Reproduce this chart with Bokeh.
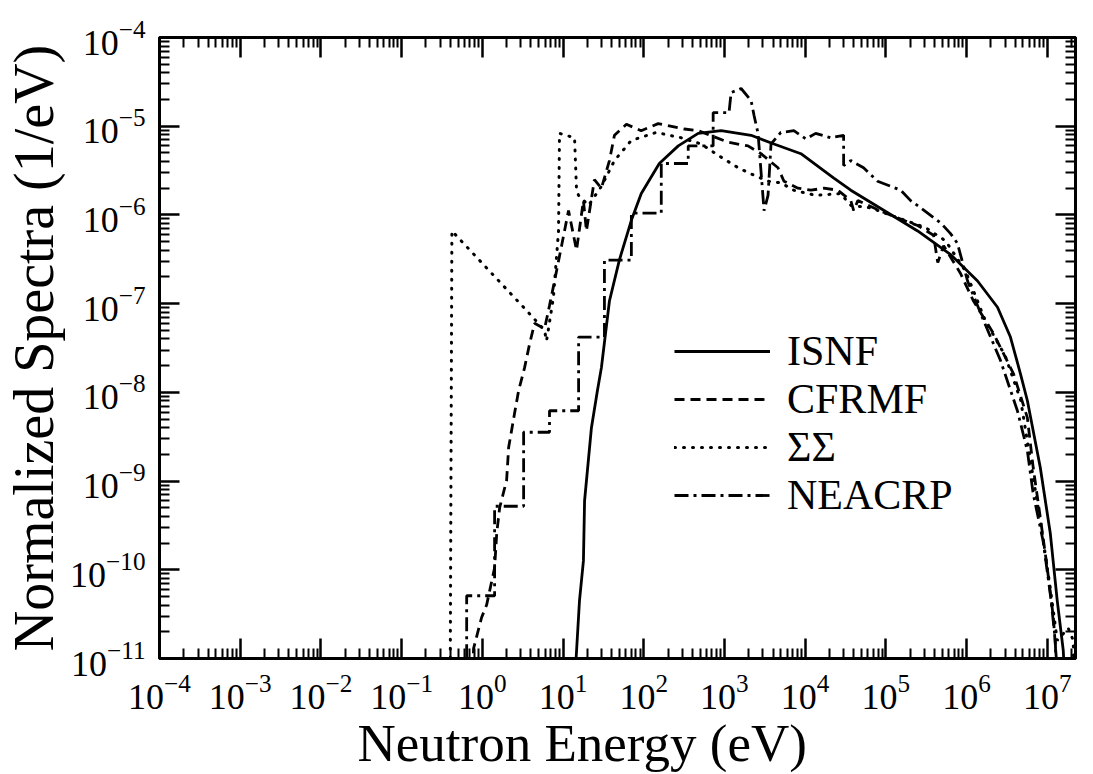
from bokeh.plotting import figure
from bokeh.models import (LogAxis, FixedTicker, Legend, LegendItem, Title,
                          CustomJSTickFormatter, Range1d)
from bokeh.embed import file_html
from bokeh.resources import INLINE

FONT = "Liberation Serif"

# ---------------- data ----------------
x_decades = [1e-4, 1e-3, 1e-2, 1e-1, 1e0, 1e1, 1e2, 1e3, 1e4, 1e5, 1e6, 1e7]
y_decades = [1e-11, 1e-10, 1e-9, 1e-8, 1e-7, 1e-6, 1e-5, 1e-4]

isnf_e = [13.9, 16.0, 17.9, 18.5, 22.5, 26.7, 29.9, 37.6, 49.9, 70.3, 93.3, 156,
          268, 473, 910, 2140, 4110, 8870, 2.27e4, 3.68e4, 9.4e4, 2.48e5, 6.3e5,
          1.37e6, 2.42e6, 3.50e6, 4.65e6, 5.67e6, 8.2e6, 1.09e7, 1.33e7, 1.58e7, 1.66e7]
isnf_s = [5e-12, 4.5e-11, 1.26e-10, 6.0e-10, 4.0e-9, 1.05e-8, 1.9e-8, 1.07e-7, 3.1e-7,
          8.7e-7, 1.74e-6, 3.8e-6, 6.0e-6, 8.3e-6, 8.9e-6, 7.9e-6, 6.3e-6, 4.9e-6,
          2.6e-6, 1.9e-6, 1.13e-6, 6.6e-7, 3.6e-7, 1.8e-7, 9.1e-8, 4.2e-8, 1.63e-8,
          8.1e-9, 1.42e-9, 2.6e-10, 4.5e-11, 1.23e-11, 5e-12]

cfrmf_e = [0.74, 0.78, 0.98, 1.13, 1.42, 1.51, 1.64, 2.0, 2.12, 2.51, 2.82, 3.34, 3.85,
           4.44, 5.9, 6.8, 7.85, 9.6, 11.7, 14.7, 17.9, 19.5, 24.5, 29.9, 37.6, 43.4,
           61, 93, 151, 318, 473, 1110, 1960, 2840, 4610, 5470, 8150, 1.18e4, 1.71e4,
           2.54e4, 3.68e4, 4.0e4, 4.5e4, 9.4e4, 1.66e5, 2.48e5, 3.9e5, 4.4e5, 5.2e5,
           8.4e5, 1.22e6, 2.16e6, 3.81e6, 5.67e6, 6.7e6, 8.2e6, 1.0e7, 1.19e7, 1.37e7]
cfrmf_s = [5e-12, 1.3e-11, 2.9e-11, 4.0e-11, 1.05e-10, 2.6e-10, 5.0e-10, 1.02e-9, 2.4e-9,
           5.8e-9, 1.05e-8, 1.9e-8, 3.5e-8, 6.0e-8, 5.2e-8, 9.5e-8, 1.8e-7, 4.5e-7,
           1.12e-6, 4.0e-7, 1.45e-6, 6.6e-7, 2.5e-6, 2.0e-6, 4.1e-6, 7.9e-6, 1.05e-5,
           8.9e-6, 1.07e-5, 9.3e-6, 8.9e-6, 6.6e-6, 6.0e-6, 4.9e-6, 3.4e-6, 2.4e-6,
           2.0e-6, 1.9e-6, 2.0e-6, 1.9e-6, 1.45e-6, 1.12e-6, 1.45e-6, 1.07e-6, 8.7e-7,
           7.6e-7, 5.9e-7, 2.9e-7, 4.5e-7, 2.2e-7, 1.07e-7, 4.6e-8, 1.63e-8, 5.2e-9,
           1.42e-9, 3.9e-10, 1.05e-10, 2.9e-11, 5e-12]

sigma_e = [0.40, 0.42, 3.75, 5.9, 6.25, 7.6, 8.8, 9.05, 13.9, 14.7, 15.6, 20.7, 29.9,
           43.4, 70, 143, 292, 515, 836, 1480, 2140, 3470, 5000, 7250, 1.35e4, 2.75e4,
           3.7e4, 6.5e4, 1.5e5, 3.1e5, 5.5e5, 9.8e5, 1.7e6, 3.0e6, 4.7e6, 6.2e6, 8.2e6,
           1.1e7, 1.33e7, 1.82e7, 2.1e7, 2.15e7]
sigma_s = [5e-12, 6.6e-7, 7.9e-8, 5.0e-8, 3.8e-8, 1.17e-7, 6.6e-7, 8.3e-6, 7.4e-6,
           1.9e-6, 1.66e-6, 1.28e-6, 2.1e-6, 4.1e-6, 6.9e-6, 8.5e-6, 7.4e-6, 6.3e-6,
           4.7e-6, 3.4e-6, 2.9e-6, 2.4e-6, 2.3e-6, 1.9e-6, 1.66e-6, 1.74e-6, 1.28e-6,
           1.2e-6, 9.1e-7, 7.2e-7, 5.1e-7, 2.3e-7, 6.5e-8, 2.6e-8, 8.1e-9, 1.7e-9,
           3.6e-10, 5.9e-11, 1.6e-11, 2.2e-11, 1.6e-11, 5e-12]

neacrp_e = [0.64, 0.64, 1.42, 1.42, 3.25, 3.25, 6.8, 6.8, 15.6, 15.6, 32.6, 32.6, 70.3,
            70.3, 165, 165, 356, 356, 725, 725, 1140, 1210, 1610, 2140, 2330, 2610,
            3100, 3470, 3780, 5000, 7250, 1.02e4, 1.35e4, 2.08e4, 3.0e4, 3.0e4, 3.68e4,
            5.3e4, 7.9e4, 1.53e5, 2.03e5, 3.3e5, 4.8e5, 6.3e5, 7.7e5, 1.03e6, 1.62e6,
            2.63e6, 4.27e6, 5.67e6, 6.7e6, 8.9e6, 1.09e7, 1.26e7, 1.3e7]
neacrp_s = [5e-12, 5.1e-11, 5.1e-11, 5.2e-10, 5.2e-10, 3.55e-9, 3.55e-9, 6.2e-9, 6.2e-9,
            4.2e-8, 4.2e-8, 3.1e-7, 3.1e-7, 1.05e-6, 1.05e-6, 3.8e-6, 3.8e-6, 6.0e-6,
            6.0e-6, 1.42e-5, 1.42e-5, 2.4e-5, 2.66e-5, 1.95e-5, 1.32e-5, 8.3e-6, 1.12e-6,
            1.66e-6, 6.3e-6, 8.5e-6, 8.9e-6, 7.2e-6, 8.3e-6, 7.4e-6, 7.9e-6, 3.6e-6,
            4.1e-6, 3.4e-6, 2.4e-6, 1.9e-6, 1.45e-6, 1.05e-6, 8.1e-7, 6.2e-7, 4.8e-7,
            1.8e-7, 6.5e-8, 2.3e-8, 6.2e-9, 2.2e-9, 7.2e-10, 2.1e-10, 5.4e-11, 1.6e-11,
            5e-12]

labels = ["ISNF", "CFRMF", "\u03a3\u03a3", "NEACRP"]
x_label = "Neutron Energy (eV)"
y_label = "Normalized Spectra (1/eV)"

# ---------------- figure ----------------
p = figure(width=1093, height=774, x_axis_type="log", y_axis_type="log",
           x_range=Range1d(1e-4, 2.24e7), y_range=Range1d(1e-11, 1e-4),
           output_backend="svg", toolbar_location=None,
           min_border_left=157, min_border_right=18, min_border_top=37,
           min_border_bottom=116)
p.grid.visible = False
p.outline_line_color = "black"
p.outline_line_width = 3
p.background_fill_color = "white"
p.border_fill_color = "white"

x_minor = [m * d for d in x_decades for m in range(2, 10)]
y_minor = [m * d for d in y_decades[:-1] for m in range(2, 10)]


def style_axis(ax, major, minor, show_labels):
    ax.ticker = FixedTicker(ticks=major, minor_ticks=minor)
    ax.axis_line_width = 3
    ax.axis_line_color = "black"
    ax.major_tick_in = 20
    ax.major_tick_out = 0
    ax.minor_tick_in = 10
    ax.minor_tick_out = 0
    ax.major_tick_line_width = 2.5
    ax.minor_tick_line_width = 2
    ax.major_label_text_font = FONT
    ax.major_label_text_color = "black"
    if not show_labels:
        ax.formatter = CustomJSTickFormatter(code="return ''")
        ax.major_label_standoff = 0


xa = p.xaxis[0]
ya = p.yaxis[0]
style_axis(xa, x_decades, x_minor, True)
style_axis(ya, y_decades, y_minor, True)
xa.major_label_text_font_size = "36px"
ya.major_label_text_font_size = "36px"
xa.major_label_standoff = 16
ya.major_label_standoff = 14

ya.axis_label = y_label
ya.axis_label_text_font = FONT
ya.axis_label_text_font_style = "normal"
ya.axis_label_text_font_size = "56px"
ya.axis_label_text_color = "black"
ya.axis_label_standoff = 2

top = LogAxis()
style_axis(top, x_decades, x_minor, False)
p.add_layout(top, "above")
right = LogAxis()
style_axis(right, y_decades, y_minor, False)
p.add_layout(right, "right")

title_below = Title(text=x_label, align="left", offset=198, text_font=FONT,
                    text_font_size="53px", text_font_style="normal",
                    text_color="black", standoff=0)
p.add_layout(title_below, "below")

r1 = p.line(isnf_e, isnf_s, line_color="black", line_width=2.8)
r2 = p.line(cfrmf_e, cfrmf_s, line_color="black", line_width=2.8, line_dash="10 6")
r3 = p.line(sigma_e, sigma_s, line_color="black", line_width=3, line_dash="1 8",
            line_cap="round")
r4 = p.line(neacrp_e, neacrp_s, line_color="black", line_width=2.8, line_dash="14 5 3 5")

legend = Legend(items=[LegendItem(label=labels[0], renderers=[r1]),
                       LegendItem(label=labels[1], renderers=[r2]),
                       LegendItem(label=labels[2], renderers=[r3]),
                       LegendItem(label=labels[3], renderers=[r4])],
                location=(515, 139), orientation="vertical",
                glyph_width=96, glyph_height=46, label_height=46,
                label_standoff=17, spacing=0, padding=0, margin=0,
                border_line_color=None, background_fill_alpha=0,
                label_text_font=FONT, label_text_font_size="42px",
                label_text_color="black")
p.add_layout(legend)

open("out.html", "w").write(file_html(p, INLINE))
